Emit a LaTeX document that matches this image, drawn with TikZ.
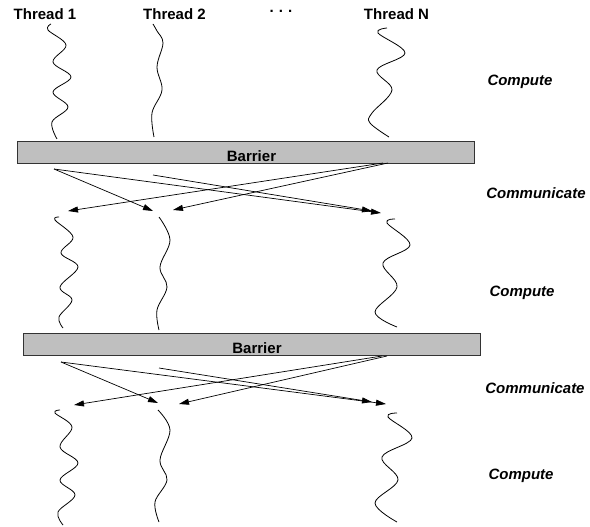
\documentclass[tikz,border=0pt]{standalone}
\usepackage{fontspec}
\setmainfont{Liberation Sans}
\usetikzlibrary{arrows.meta}
\begin{document}
\begin{tikzpicture}[x=1pt,y=-1pt,
  thread/.style={line width=0.8pt, line join=round},
  msg/.style={line width=0.7pt, -{Triangle[length=10pt,width=6pt]}},
  barrier/.style={draw=black!80, fill=black!25, line width=0.9pt, inner sep=0pt, anchor=north west},
  lbl/.style={font=\fontsize{15}{18}\selectfont\bfseries, anchor=base, inner sep=0pt},
  phase/.style={font=\fontsize{15}{18}\selectfont\bfseries\itshape, anchor=base, inner sep=0pt}]
\useasboundingbox (0,0) rectangle (590,527);

% thread headings
\node[lbl] (h1) at (45,20) {Thread 1};
\node[lbl] (h2) at (174.5,20) {Thread 2};
\node[lbl] (hN) at (396.5,20) {Thread N};
\node[lbl] (dots) at (281,13) {.\,\,.\,\,.};

% phase labels
\node[phase] (c1) at (520,86) {Compute};
\node[phase] (m1) at (536,198) {Communicate};
\node[phase] (c2) at (522,296) {Compute};
\node[phase] (m2) at (535,393) {Communicate};
\node[phase] (c3) at (521,479) {Compute};

% barriers
\node[barrier, minimum width=457pt, minimum height=22pt] (bar1) at (17,141) {};
\node[lbl] (bar1t) at (251.5,161) {Barrier};
\node[barrier, minimum width=457pt, minimum height=22pt] (bar2) at (23,333) {};
\node[lbl] (bar2t) at (257,353) {Barrier};

% first compute phase
\draw[thread] plot[smooth, tension=0.6] coordinates {(51,24) (48,30) (66,45) (53,62) (71,77) (53,92) (68,107) (52,122) (57,139)};
\draw[thread] plot[smooth, tension=0.6] coordinates {(153,24) (157,31) (163,43) (157,67) (162,90) (152,113) (154,137)};
\draw[thread] plot[smooth, tension=0.6] coordinates {(387,28) (378,33) (405,53) (377,70) (392,90) (372,113) (370,123) (389,137)};

% second compute phase
\draw[thread] plot[smooth, tension=0.6] coordinates {(59,217) (55,220) (73,237) (61,253) (78,267) (60,287) (72,300) (59,317) (63,328)};
\draw[thread] plot[smooth, tension=0.6] coordinates {(159,217) (170,240) (160,267) (167,287) (157,310) (159,330)};
\draw[thread] plot[smooth, tension=0.6] coordinates {(395,219) (387,223) (410,245) (383,263) (397,287) (375,312) (397,327)};

% third compute phase
\draw[thread] plot[smooth, tension=0.6] coordinates {(60,410) (55,413) (72,427) (60,447) (78,463) (60,480) (75,495) (58,512) (63,525)};
\draw[thread] plot[smooth, tension=0.6] coordinates {(158,410) (170,430) (160,460) (167,480) (155,502) (159,522)};
\draw[thread] plot[smooth, tension=0.6] coordinates {(397,413) (388,417) (412,438) (382,457) (398,480) (375,503) (397,522)};

% message end points, first exchange
\coordinate (s1a) at (54,169);
\coordinate (s2a) at (153,175);
\coordinate (sNa) at (383,163);
\coordinate (sNb) at (388,163);
\coordinate (r1a) at (68,211);
\coordinate (r2a) at (153,211);
\coordinate (r2b) at (173,210);
\coordinate (rNa) at (372,211);
\coordinate (rNb) at (381,213);

\draw[msg] (s1a) -- (r2a);
\draw[msg] (s1a) -- (rNb);
\draw[msg] (s2a) -- (rNa);
\draw[msg] (sNa) -- (r1a);
\draw[msg] (sNb) -- (r2b);

% message end points, second exchange
\coordinate (s1c) at (61,362);
\coordinate (s2c) at (159,368);
\coordinate (sNc) at (382,356);
\coordinate (sNd) at (387,356);
\coordinate (r1c) at (74,405);
\coordinate (r2c) at (158,403);
\coordinate (r2d) at (179,404);
\coordinate (rNc) at (372,402);
\coordinate (rNd) at (386,404);

\draw[msg] (s1c) -- (r2c);
\draw[msg] (s1c) -- (rNd);
\draw[msg] (s2c) -- (rNc);
\draw[msg] (sNc) -- (r1c);
\draw[msg] (sNd) -- (r2d);
\end{tikzpicture}
\end{document}
